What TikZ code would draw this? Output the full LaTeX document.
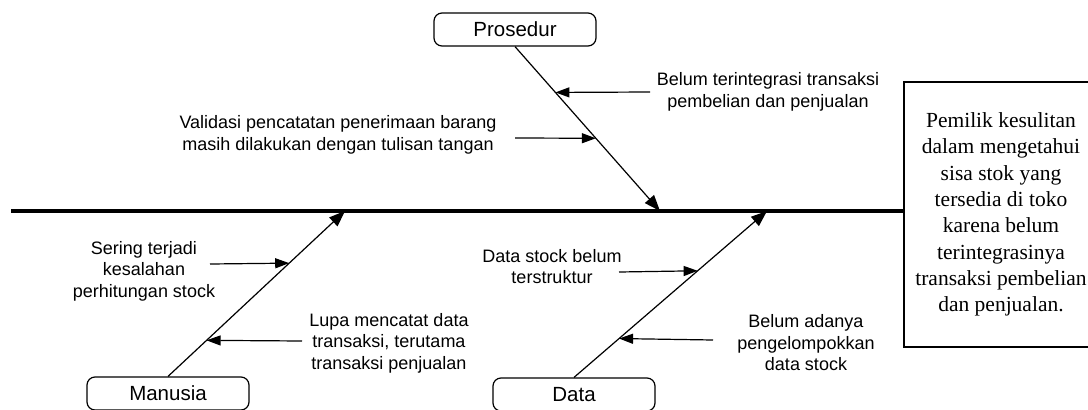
\documentclass[tikz,border=0pt]{standalone}
\usepackage{fontspec}
\setmainfont{Liberation Serif}
\setsansfont{Liberation Sans}
\usetikzlibrary{arrows.meta,calc}
\begin{document}
\begin{tikzpicture}[x=1pt,y=-1pt,
  cat/.style={draw,rounded corners=8pt,line width=1.2pt,minimum width=162pt,minimum height=33pt,inner sep=0pt,font=\sffamily\fontsize{20.5}{24}\selectfont},
  bone/.style={line width=1.2pt,-{Triangle[length=16pt,width=12pt]}},
  sub/.style={line width=1.2pt,-{Triangle[length=14pt,width=10pt]}},
  lbl/.style={align=center,inner sep=0pt,font=\sffamily\fontsize{18}{21.5}\selectfont},
]
\useasboundingbox (0,0) rectangle (1088,410);

% effect box
\node[draw,line width=1.3pt,minimum width=194pt,minimum height=265pt,inner sep=0pt,align=center,
      font=\rmfamily\fontsize{21.5}{26.3}\selectfont] (effect) at (1001,214.5)
  {Pemilik kesulitan\\dalam mengetahui\\sisa stok yang\\tersedia di toko\\karena belum\\terintegrasinya\\transaksi pembelian\\dan penjualan.};

% spine
\coordinate (sp) at (11,211);
\draw[line width=3.3pt] (sp) -- (sp -| effect.west);

% category boxes
\node[cat] (pros) at (515,29.5) {Prosedur};
\node[cat] (man) at (168,393.5) {Manusia};
\node[cat] (data) at (574,394.5) {Data};

% bone ends on spine
\coordinate (pend) at (660,211);
\coordinate (mend) at (345,211);
\coordinate (dend) at (767,211);

\draw[bone] (pros.south) -- (pend);
\draw[bone] (man.north) -- (mend);
\draw[bone] (data.north) -- (dend);

% labels
\node[lbl] (t1) at (768,92) {Belum terintegrasi transaksi\\pembelian dan penjualan};
\node[lbl] (t2) at (338,135) {Validasi pencatatan penerimaan barang\\masih dilakukan dengan tulisan tangan};
\node[lbl] (t3) at (144,271) {Sering terjadi\\kesalahan\\perhitungan stock};
\node[lbl] (t4) at (389,343) {Lupa mencatat data\\transaksi, terutama\\transaksi penjualan};
\node[lbl] (t5) at (552,266.5) {Data stock belum\\terstruktur};
\node[lbl] (t6) at (806,343) {Belum adanya\\pengelompokkan\\data stock};

% arrow tails
\coordinate (a1) at (650,92);
\coordinate (a2) at (515,138);
\coordinate (a3) at (210,264);
\coordinate (a4) at (302,341);
\coordinate (a5) at (619,272);
\coordinate (a6) at (713,340);

\draw[sub] (a1) -- ($(pros.south)!0.2788!(pend)$);
\draw[sub] (a2) -- ($(pros.south)!0.5576!(pend)$);
\draw[sub] (a3) -- ($(man.north)!0.6848!(mend)$);
\draw[sub] (a4) -- ($(man.north)!0.2180!(mend)$);
\draw[sub] (a5) -- ($(data.north)!0.6407!(dend)$);
\draw[sub] (a6) -- ($(data.north)!0.2335!(dend)$);
\end{tikzpicture}
\end{document}
